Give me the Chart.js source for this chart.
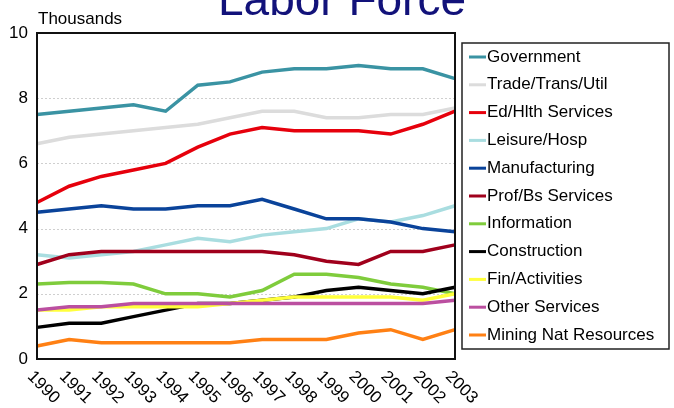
<!DOCTYPE html>
<html>
<head>
<meta charset="utf-8">
<script src="https://cdn.jsdelivr.net/npm/chart.js@4"></script>
<style>
  html, body { margin: 0; padding: 0; background: #fff; }
  #laborChart { display: block; }
</style>
</head>
<body>
<canvas id="laborChart" width="674" height="408"></canvas>
<script>
const years = ['1990', '1991', '1992', '1993', '1994', '1995', '1996', '1997', '1998', '1999', '2000', '2001', '2002', '2003'];
const yTicks = [0, 2, 4, 6, 8, 10];

const government    = [7.5, 7.6, 7.7, 7.8, 7.6, 8.4, 8.5, 8.8, 8.9, 8.9, 9.0, 8.9, 8.9, 8.6];
const tradeTrans    = [6.6, 6.8, 6.9, 7.0, 7.1, 7.2, 7.4, 7.6, 7.6, 7.4, 7.4, 7.5, 7.5, 7.7];
const edHealth      = [4.8, 5.3, 5.6, 5.8, 6.0, 6.5, 6.9, 7.1, 7.0, 7.0, 7.0, 6.9, 7.2, 7.6];
const leisureHosp   = [3.2, 3.1, 3.2, 3.3, 3.5, 3.7, 3.6, 3.8, 3.9, 4.0, 4.3, 4.2, 4.4, 4.7];
const manufacturing = [4.5, 4.6, 4.7, 4.6, 4.6, 4.7, 4.7, 4.9, 4.6, 4.3, 4.3, 4.2, 4.0, 3.9];
const profBusiness  = [2.9, 3.2, 3.3, 3.3, 3.3, 3.3, 3.3, 3.3, 3.2, 3.0, 2.9, 3.3, 3.3, 3.5];
const information   = [2.3, 2.35, 2.35, 2.3, 2.0, 2.0, 1.9, 2.1, 2.6, 2.6, 2.5, 2.3, 2.2, 2.0];
const construction  = [0.97, 1.1, 1.1, 1.3, 1.5, 1.7, 1.7, 1.8, 1.9, 2.1, 2.2, 2.1, 2.0, 2.2];
const finActivities = [1.5, 1.5, 1.6, 1.6, 1.6, 1.6, 1.7, 1.8, 1.9, 1.9, 1.9, 1.9, 1.8, 2.0];
const otherServices = [1.5, 1.6, 1.6, 1.7, 1.7, 1.7, 1.7, 1.7, 1.7, 1.7, 1.7, 1.7, 1.7, 1.8];
const miningNat     = [0.4, 0.6, 0.5, 0.5, 0.5, 0.5, 0.5, 0.6, 0.6, 0.6, 0.8, 0.9, 0.6, 0.9];

const seriesNames = ['Government', 'Trade/Trans/Util', 'Ed/Hlth Services', 'Leisure/Hosp', 'Manufacturing',
    'Prof/Bs Services', 'Information', 'Construction', 'Fin/Activities', 'Other Services', 'Mining Nat Resources'];
const seriesData = [government, tradeTrans, edHealth, leisureHosp, manufacturing,
    profBusiness, information, construction, finActivities, otherServices, miningNat];
const seriesColors = ['#3a93a3', '#dcdcdc', '#e6000c', '#a9dde0', '#0a439a',
    '#a0001c', '#7fcc3c', '#000000', '#ffff3c', '#bb4fa0', '#ff8014'];

const FONT = 'Arial, "Liberation Sans", sans-serif';

// build datasets, drawn back to front like the original
const datasets = seriesNames.map(function (name, i) {
    return {
        label: name,
        data: seriesData[i],
        borderColor: seriesColors[i],
        backgroundColor: seriesColors[i],
        borderWidth: 3.5,
        pointRadius: 0,
        tension: 0,
        order: 11 - i
    };
}).reverse();

const extras = {
    id: 'extras',
    beforeDatasetsDraw: function (chart) {
        const ctx = chart.ctx;
        const y = chart.scales.y;
        const area = chart.chartArea;
        ctx.save();
        ctx.strokeStyle = '#cfcfcf';
        ctx.lineWidth = 1;
        ctx.setLineDash([2, 2]);
        [2, 4, 6, 8].forEach(function (v) {
            const py = Math.round(y.getPixelForValue(v)) + 0.5;
            ctx.beginPath();
            ctx.moveTo(area.left, py);
            ctx.lineTo(area.right, py);
            ctx.stroke();
        });
        ctx.restore();
    },
    afterDraw: function (chart) {
        const ctx = chart.ctx;
        const area = chart.chartArea;
        const x = chart.scales.x;
        ctx.save();

        // plot frame
        ctx.strokeStyle = '#111';
        ctx.lineWidth = 2;
        ctx.strokeRect(area.left, area.top, area.right - area.left, area.bottom - area.top);

        // title, clipped at top like the source
        ctx.fillStyle = '#12127a';
        ctx.font = '46px ' + FONT;
        ctx.textAlign = 'center';
        ctx.textBaseline = 'alphabetic';
        ctx.fillText('Labor Force', 342, 15);

        ctx.fillStyle = '#000';
        ctx.font = '17px ' + FONT;
        ctx.textAlign = 'left';
        ctx.fillText('Thousands', 38, 24);

        // slanted year labels
        ctx.font = '17px ' + FONT;
        ctx.textBaseline = 'top';
        years.forEach(function (yr, i) {
            const px = x.getPixelForValue(i);
            ctx.save();
            ctx.translate(px - 1, area.bottom + 9);
            ctx.rotate(Math.PI / 4);
            ctx.fillText(yr, 0, 0);
            ctx.restore();
        });

        // legend box
        const lx = 462, ly = 43, lw = 207, lh = 306;
        ctx.strokeStyle = '#222';
        ctx.lineWidth = 1.5;
        ctx.strokeRect(lx, ly, lw, lh);
        ctx.font = '17px ' + FONT;
        ctx.textBaseline = 'middle';
        seriesNames.forEach(function (name, i) {
            const cy = 57 + i * 27.8;
            ctx.fillStyle = seriesColors[i];
            ctx.fillRect(469, cy - 1.5, 17, 3);
            ctx.fillStyle = '#000';
            ctx.fillText(name, 487, cy);
        });
        ctx.restore();
    }
};

new Chart(document.getElementById('laborChart'), {
    type: 'line',
    data: {
        labels: years,
        datasets: datasets
    },
    options: {
        responsive: false,
        animation: false,
        layout: { padding: { left: 0, top: 33, right: 219, bottom: 0 } },
        plugins: {
            legend: { display: false },
            title: { display: false },
            tooltip: { enabled: false }
        },
        scales: {
            x: {
                offset: false,
                grid: { display: false, drawTicks: false },
                border: { display: false },
                ticks: { display: false },
                afterFit: function (scale) { scale.height = 49; }
            },
            y: {
                min: 0,
                max: 10,
                afterBuildTicks: function (scale) {
                    scale.ticks = yTicks.map(function (v) { return { value: v }; });
                },
                grid: { display: false, drawTicks: false },
                border: { display: false },
                ticks: {
                    color: '#000',
                    padding: 9,
                    font: { family: FONT, size: 17 }
                },
                afterFit: function (scale) { scale.width = 37; }
            }
        }
    },
    plugins: [extras]
});
</script>
</body>
</html>
